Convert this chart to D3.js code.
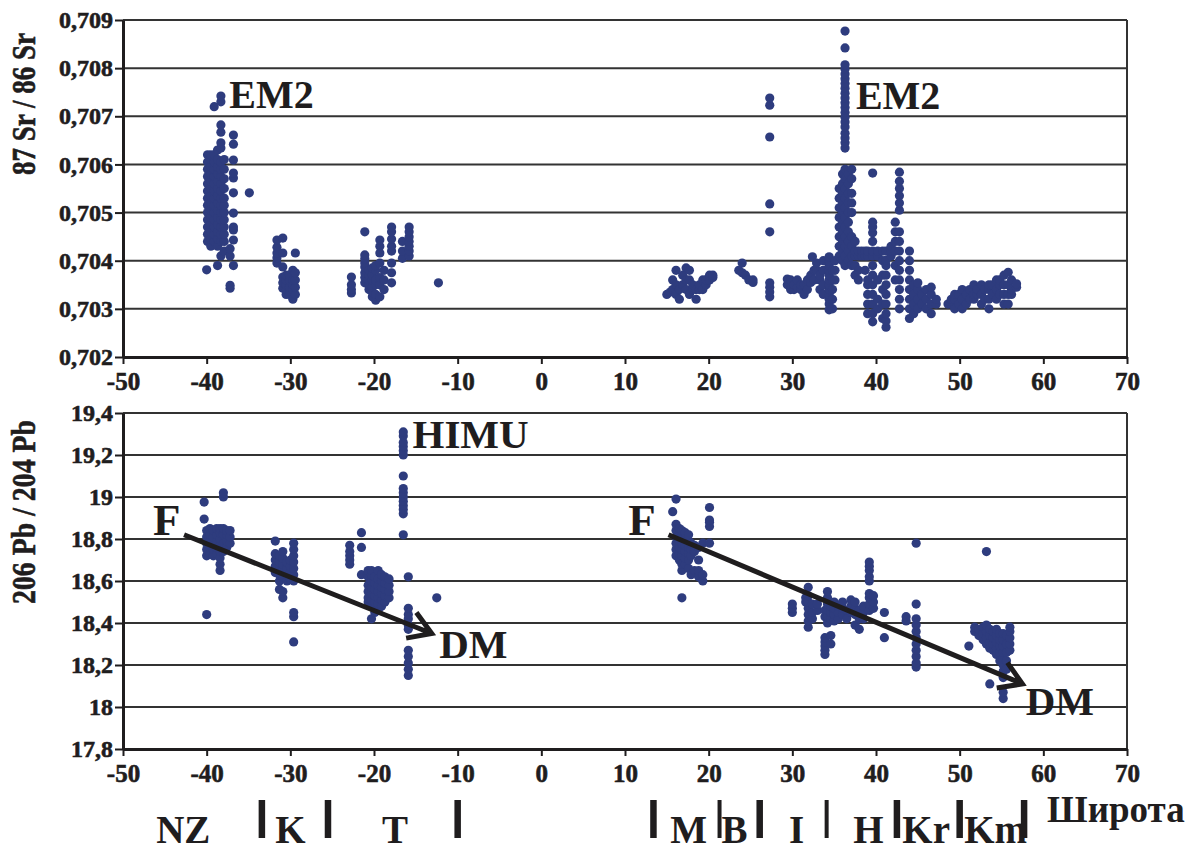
<!DOCTYPE html>
<html>
<head>
<meta charset="utf-8">
<script src="https://cdn.jsdelivr.net/npm/d3@7"></script>
<style>
body { margin: 0; background: #fff; }
</style>
</head>
<body>
<svg id="chart" width="1197" height="850"></svg>
<script>
// ---- data ----
const latTicks = [-50, -40, -30, -20, -10, 0, 10, 20, 30, 40, 50, 60, 70];
const srTicks = [0.702, 0.703, 0.704, 0.705, 0.706, 0.707, 0.708, 0.709];
const pbTicks = [17.8, 18, 18.2, 18.4, 18.6, 18.8, 19, 19.2, 19.4];

// 87Sr/86Sr, columns of [latitude, [values]]
const srColumns = [
  [-40.0, [0.70381]],
  [-39.9, [0.7044, 0.70455, 0.7047, 0.70485, 0.705, 0.70515, 0.7053, 0.70545, 0.7056, 0.70575, 0.7059, 0.70605, 0.7062]],
  [-39.5, [0.7043, 0.70445, 0.7046, 0.70475, 0.7049, 0.70505, 0.7052, 0.70535, 0.7055, 0.70565, 0.7058, 0.70595, 0.7061, 0.7062]],
  [-39.1, [0.7044, 0.70455, 0.7047, 0.70485, 0.705, 0.70515, 0.7053, 0.70545, 0.7056, 0.70575, 0.7059, 0.70605, 0.7062, 0.7072]],
  [-38.7, [0.7039, 0.7043, 0.70445, 0.7046, 0.70475, 0.7049, 0.70505, 0.7052, 0.70535, 0.7055, 0.70565, 0.7058, 0.70595, 0.7061, 0.7063]],
  [-38.3, [0.7041, 0.7044, 0.70455, 0.7047, 0.70485, 0.705, 0.70515, 0.7053, 0.70545, 0.7056, 0.70575, 0.7059, 0.70605, 0.70634, 0.70645, 0.70667, 0.70682, 0.7073, 0.70742]],
  [-37.9, [0.7042, 0.7044, 0.70455, 0.7047, 0.70485, 0.705, 0.70515, 0.7053, 0.7055, 0.7057, 0.7059, 0.7061]],
  [-37.2, [0.70343, 0.70349, 0.7041, 0.70425]],
  [-36.8, [0.7039, 0.70443, 0.70464, 0.7047, 0.70499, 0.70541, 0.70572, 0.70582, 0.70609, 0.70642, 0.70661]],
  [-34.9, [0.70541]],
  [-31.6, [0.70395, 0.70406, 0.70416, 0.70428, 0.70443]],
  [-30.9, [0.70343, 0.70354, 0.70366, 0.70387, 0.70416, 0.70447]],
  [-30.5, [0.7033, 0.7034, 0.7035, 0.7036, 0.7037]],
  [-30.1, [0.7033, 0.70345, 0.7036, 0.7037]],
  [-29.7, [0.7032, 0.7034, 0.7035, 0.7036, 0.7038]],
  [-29.4, [0.7033, 0.70345, 0.7036, 0.70375, 0.70416]],
  [-22.7, [0.70333, 0.7034, 0.7035, 0.70366]],
  [-21.1, [0.70354, 0.70365, 0.70375, 0.70387, 0.70395, 0.70404, 0.70412, 0.7046]],
  [-20.6, [0.7034, 0.7035, 0.7036, 0.7037, 0.7038]],
  [-20.2, [0.70325, 0.70335, 0.70345, 0.7036, 0.7037, 0.70385]],
  [-19.8, [0.70318, 0.7033, 0.7035, 0.7036, 0.7038, 0.7039]],
  [-19.3, [0.70325, 0.7035, 0.70365, 0.70395, 0.70416, 0.7043, 0.70443]],
  [-18.8, [0.7034, 0.7036, 0.7038]],
  [-17.9, [0.70354, 0.70375, 0.70395, 0.7042, 0.7043, 0.70445, 0.7046, 0.7047]],
  [-16.6, [0.70405, 0.7042, 0.7044]],
  [-15.8, [0.7041, 0.7042, 0.7043, 0.7044, 0.7045, 0.7046, 0.7047]],
  [-12.3, [0.70354]],
  [15.0, [0.7033]], [15.4, [0.70335]], [15.7, [0.7034, 0.7036]],
  [16.1, [0.7033, 0.7035, 0.7038]], [16.5, [0.7032, 0.7034]], [16.9, [0.7035, 0.7037]],
  [17.3, [0.7034, 0.7036, 0.70385]], [17.7, [0.7033, 0.7036, 0.7038]], [18.1, [0.7034, 0.7035]],
  [18.5, [0.7032, 0.7034]], [18.9, [0.7034, 0.7035]], [19.3, [0.7034, 0.7036]],
  [19.7, [0.7035, 0.7036]], [20.1, [0.7036, 0.7037]], [20.5, [0.70365, 0.7037]],
  [23.6, [0.7038]], [24.0, [0.70375, 0.70395]], [24.4, [0.7037]], [24.8, [0.7036]], [25.3, [0.70355, 0.7036]],
  [27.3, [0.70325, 0.70335, 0.70345, 0.70354, 0.7046, 0.70518, 0.70657, 0.70723, 0.70738]],
  [29.4, [0.7035, 0.70362]], [29.8, [0.7034, 0.7036]], [30.2, [0.7034, 0.7035]], [30.6, [0.70345, 0.7036]],
  [31.0, [0.7034, 0.7035]], [31.4, [0.7033, 0.7035]], [31.8, [0.7034, 0.7036]], [32.2, [0.70355, 0.7037]],
  [32.4, [0.70408]], [32.6, [0.7036, 0.7038]], [32.9, [0.7038, 0.70395]],
  [33.3, [0.7034, 0.7036, 0.7037]], [33.7, [0.7033, 0.7035, 0.7038, 0.704]],
  [34.4, [0.70298, 0.7031, 0.7032, 0.7033, 0.7034, 0.7035, 0.7036, 0.7037, 0.7038, 0.7039, 0.704, 0.70408]],
  [34.8, [0.703, 0.7032, 0.7034, 0.7036, 0.7038]],
  [35.1, [0.7036, 0.7038, 0.704]],
  [35.6, [0.7041, 0.7043, 0.7045, 0.7047, 0.7049, 0.7051, 0.7053, 0.7055]],
  [36.0, [0.704, 0.7042, 0.7044, 0.7046, 0.7048, 0.705, 0.7052, 0.7054, 0.7056, 0.7058]],
  [36.3, [0.7039, 0.7041, 0.7043, 0.7045, 0.7047, 0.7049, 0.7051, 0.7053, 0.7055, 0.7057, 0.7059,
          0.70634, 0.70645, 0.70655, 0.70665, 0.70678, 0.70688, 0.70698, 0.70708, 0.70718, 0.70728,
          0.70738, 0.70748, 0.70758, 0.70768, 0.70778, 0.70788, 0.70798, 0.70807, 0.70842, 0.70877]],
  [36.7, [0.704, 0.7042, 0.7044, 0.7046, 0.7048, 0.705, 0.7052, 0.7054, 0.7056, 0.7058]],
  [37.1, [0.7039, 0.7041, 0.7043, 0.7045, 0.705, 0.7052, 0.7054, 0.7057, 0.7059]],
  [37.5, [0.7037, 0.7039, 0.7041, 0.7042, 0.7044]],
  [37.9, [0.7036, 0.7038, 0.7041, 0.7042]],
  [38.3, [0.7041, 0.7042]], [38.7, [0.7038, 0.7041, 0.7042]],
  [39.0, [0.7029, 0.7031, 0.7033, 0.7035, 0.7036, 0.7041, 0.7042]],
  [39.6, [0.70273, 0.7029, 0.7031, 0.7033, 0.7035, 0.7037, 0.7039, 0.7041, 0.7042, 0.7044, 0.70458, 0.7047, 0.7048, 0.70582]],
  [40.2, [0.703, 0.7032, 0.7036, 0.7041, 0.7042]],
  [40.8, [0.7028, 0.7031, 0.7034, 0.7037, 0.704, 0.7042]],
  [41.2, [0.70262, 0.70275, 0.7029, 0.7031, 0.7033, 0.7035, 0.7037, 0.7039, 0.70401, 0.7042]],
  [41.8, [0.7041, 0.7042, 0.7043]],
  [42.3, [0.7036, 0.7039, 0.7042, 0.7044, 0.7046, 0.7048]],
  [42.8, [0.703, 0.7032, 0.7034, 0.7036, 0.7038, 0.704, 0.7042, 0.7044, 0.7046, 0.70505, 0.7052, 0.70535, 0.7055, 0.70565, 0.70584]],
  [44.0, [0.7028, 0.703, 0.7032, 0.7034, 0.7036, 0.7038, 0.704, 0.7042]],
  [44.5, [0.7029, 0.7031, 0.7033, 0.7035]],
  [45.0, [0.703, 0.7032, 0.7034, 0.70354]],
  [45.5, [0.7031, 0.7033]], [46.0, [0.703, 0.7032, 0.7034]],
  [46.6, [0.7029, 0.7031, 0.7033, 0.70345]], [47.2, [0.7031, 0.7032]],
  [48.6, [0.7031]], [49.0, [0.7031, 0.7032]], [49.4, [0.703, 0.7032, 0.7033]], [49.9, [0.7031, 0.7033]],
  [50.3, [0.703, 0.7032, 0.7034]], [50.8, [0.7031, 0.7033]], [51.2, [0.7032, 0.7034]],
  [51.7, [0.7032, 0.7033, 0.7035]], [52.1, [0.7033, 0.7034]], [52.6, [0.7031, 0.7033, 0.7035]],
  [53.0, [0.7032, 0.7034]], [53.5, [0.703, 0.7032, 0.7034, 0.7035]], [53.9, [0.7033, 0.7035]],
  [54.4, [0.7032, 0.7034, 0.7036]], [54.8, [0.7033, 0.7035, 0.7036]], [55.3, [0.7031, 0.7033, 0.7035, 0.7037]],
  [55.8, [0.7031, 0.7033, 0.7035, 0.70376]], [56.2, [0.7033, 0.7034, 0.7036]], [56.8, [0.70345, 0.70352]]
];

// 206Pb/204Pb, columns of [latitude, [values]]
const pbColumns = [
  [-40.3, [18.895, 18.976]],
  [-40.0, [18.44, 18.72, 18.75, 18.78, 18.81, 18.84]],
  [-39.6, [18.73, 18.76, 18.79, 18.82, 18.85]],
  [-39.2, [18.72, 18.75, 18.78, 18.81, 18.84]],
  [-38.8, [18.73, 18.76, 18.79, 18.82, 18.85]],
  [-38.4, [18.65, 18.68, 18.71, 18.74, 18.77, 18.8, 18.83, 18.85]],
  [-38.0, [18.74, 18.78, 18.82, 18.85, 19.0, 19.02]],
  [-37.6, [18.76, 18.79, 18.82, 18.84]],
  [-37.2, [18.78, 18.81, 18.84]],
  [-31.8, [18.64, 18.67, 18.7, 18.73, 18.79]],
  [-31.3, [18.56, 18.6, 18.63, 18.66, 18.69, 18.72]],
  [-30.9, [18.52, 18.55, 18.62, 18.65, 18.68, 18.71, 18.74]],
  [-30.4, [18.6, 18.63, 18.66, 18.69]],
  [-30.0, [18.61, 18.64, 18.67, 18.7]],
  [-29.6, [18.31, 18.43, 18.45, 18.6, 18.63, 18.66, 18.69, 18.72, 18.75, 18.78]],
  [-22.9, [18.68, 18.7, 18.72, 18.74, 18.77]],
  [-21.5, [18.63, 18.76, 18.83]],
  [-20.7, [18.5, 18.52, 18.55, 18.58, 18.62, 18.65]],
  [-20.3, [18.42, 18.48, 18.51, 18.54, 18.57, 18.6, 18.63, 18.65]],
  [-19.9, [18.45, 18.5, 18.53, 18.56, 18.59, 18.62]],
  [-19.5, [18.46, 18.49, 18.52, 18.55, 18.58, 18.61, 18.65]],
  [-19.1, [18.48, 18.51, 18.54, 18.57, 18.6, 18.63]],
  [-18.7, [18.5, 18.53, 18.56, 18.59, 18.62]],
  [-18.2, [18.52, 18.55, 18.58, 18.61]],
  [-16.5, [18.82, 18.92, 18.94, 18.96, 18.98, 19.0, 19.02, 19.04, 19.1, 19.2, 19.22, 19.24, 19.26, 19.29, 19.31]],
  [-15.9, [18.15, 18.18, 18.21, 18.24, 18.27, 18.37, 18.39, 18.42, 18.44, 18.47, 18.62]],
  [-12.5, [18.52]],
  [15.7, [18.93]],
  [16.1, [18.72, 18.75, 18.78, 18.81, 18.84, 18.87, 18.99]],
  [16.5, [18.7, 18.73, 18.76, 18.79, 18.82, 18.85]],
  [16.8, [18.52, 18.65, 18.68, 18.72, 18.75, 18.78, 18.81, 18.84]],
  [17.2, [18.68, 18.71, 18.74, 18.77, 18.8, 18.83]],
  [17.6, [18.66, 18.7, 18.73, 18.76, 18.79, 18.82]],
  [17.9, [18.63, 18.72, 18.75, 18.78]],
  [18.3, [18.65, 18.74, 18.77]],
  [18.8, [18.62, 18.65, 18.7, 18.76]],
  [19.3, [18.6, 18.63, 18.78]],
  [20.1, [18.78, 18.86, 18.88, 18.89, 18.95]],
  [30.0, [18.45, 18.47, 18.49]],
  [31.6, [18.5, 18.52]],
  [31.9, [18.38, 18.41, 18.44, 18.47, 18.5, 18.53, 18.57]],
  [32.4, [18.42, 18.45, 18.49]],
  [33.0, [18.46, 18.49]],
  [33.9, [18.25, 18.27, 18.29, 18.31, 18.33, 18.43, 18.46]],
  [34.2, [18.4, 18.43, 18.46, 18.49, 18.52, 18.55]],
  [34.6, [18.3, 18.34, 18.42, 18.45, 18.48]],
  [35.0, [18.41, 18.44, 18.47, 18.5]],
  [35.5, [18.42, 18.45, 18.48]],
  [36.0, [18.44, 18.47, 18.5]],
  [36.5, [18.42, 18.46]],
  [37.0, [18.45, 18.48, 18.51]],
  [37.5, [18.39, 18.44, 18.47, 18.5]],
  [38.0, [18.37, 18.42, 18.46]],
  [38.5, [18.42, 18.45, 18.48]],
  [39.2, [18.46, 18.49, 18.52, 18.54, 18.6, 18.62, 18.65, 18.67, 18.69]],
  [39.7, [18.47, 18.5, 18.53]],
  [41.0, [18.33, 18.45]],
  [43.6, [18.41, 18.43]],
  [44.8, [18.19, 18.21, 18.24, 18.27, 18.3, 18.33, 18.36, 18.39, 18.42, 18.49, 18.78]],
  [51.1, [18.29]],
  [51.8, [18.36, 18.38]],
  [52.3, [18.34, 18.37]],
  [52.8, [18.32, 18.35, 18.38]],
  [53.2, [18.3, 18.33, 18.36, 18.39, 18.74]],
  [53.6, [18.11, 18.28, 18.31, 18.34, 18.37]],
  [54.0, [18.27, 18.3, 18.33, 18.36]],
  [54.4, [18.25, 18.28, 18.31, 18.34, 18.37]],
  [54.8, [18.22, 18.26, 18.29, 18.32, 18.35]],
  [55.2, [18.04, 18.07, 18.14, 18.17, 18.2, 18.23, 18.26, 18.29, 18.32, 18.35]],
  [55.6, [18.18, 18.22, 18.26, 18.3, 18.34]],
  [56.0, [18.27, 18.3, 18.33, 18.36, 18.38]]
];

// region boundaries (latitude) and region names with their centre latitude
const zoneBounds = [-33.4, -25.5, -10, 13.4, 21.3, 26.1, 34.1, 42.5, 50, 57.7];
const zoneThin = [21.3, 34.1];
const zoneNames = ["NZ", "K", "T", "M", "B", "I", "H", "Kr", "Km"];
const zoneCentres = [-42.8, -30.0, -17.5, 17.6, 23.1, 30.5, 39.1, 46.0, 54.3];

// labels and trend arrows, anchored in data units
const srLabels = [["EM2", -37.3, 0.70717], ["EM2", 37.6, 0.70715]];
const pbLabels = [["HIMU", -15.4, 19.233], ["F", -46.4, 18.82], ["F", 10.4, 18.82], ["DM", -12.2, 18.233], ["DM", 57.9, 17.962]];
const pbArrows = [[-42.7, 18.82, -13.1, 18.35], [15.2, 18.82, 57.5, 18.11]];

// ---- drawing ----
const FONT = '"Liberation Serif", "Times New Roman", serif';
const INK = "#1f1d1e";
const svg = d3.select("#chart");
svg.append("rect").attr("width", 1197).attr("height", 850).attr("fill", "#fff");

const left = 123, right = 1127;
const x = d3.scaleLinear().domain([-50, 70]).range([left, right]);
const ySr = d3.scaleLinear().domain([0.702, 0.709]).range([357, 20]);
const yPb = d3.scaleLinear().domain([17.8, 19.4]).range([749, 413]);

const dotColor = "#2e3c7e";
const commaFmt = d => String(d).replace(".", ",");

// bold serif text; a thin outline thickens the small labels like the original
function label(sel, size, heavy) {
  return sel.style("font-family", FONT).style("font-weight", "bold")
    .style("font-size", size + "px").attr("fill", INK)
    .attr("stroke", heavy ? INK : "none").attr("stroke-width", heavy ? 0.6 : 0);
}

function panel(y, ticks, columns) {
  const g = svg.append("g");
  const [y0, y1] = y.range();

  // grid lines
  g.selectAll(".grid").data(ticks.slice(1)).enter()
    .append("line")
    .attr("x1", left).attr("x2", right)
    .attr("y1", d => y(d)).attr("y2", d => y(d))
    .attr("stroke", "#333").attr("stroke-width", 2);

  // right border
  g.append("line")
    .attr("x1", right).attr("x2", right).attr("y1", y1).attr("y2", y0)
    .attr("stroke", "#333").attr("stroke-width", 2);

  const yAxis = g.append("g")
    .attr("transform", "translate(" + left + ",0)")
    .call(d3.axisLeft(y).tickValues(ticks).tickSize(8).tickSizeOuter(0).tickPadding(2).tickFormat(commaFmt));
  const xAxis = g.append("g")
    .attr("transform", "translate(0," + y0 + ")")
    .call(d3.axisBottom(x).tickValues(latTicks).tickSize(7).tickSizeOuter(0).tickPadding(8).tickFormat(d => d));

  [yAxis, xAxis].forEach(a => {
    a.select(".domain").attr("stroke", INK).attr("stroke-width", 3);
    a.selectAll(".tick line").attr("stroke", INK).attr("stroke-width", 2);
  });
  label(yAxis.selectAll("text"), 24, true);
  label(xAxis.selectAll("text"), 25, true);

  const pts = columns.flatMap(([lat, vals]) => vals.map(v => [lat, v]));
  g.selectAll(".dot").data(pts).enter()
    .append("circle")
    .attr("cx", d => x(d[0]))
    .attr("cy", d => y(d[1]))
    .attr("r", 4.6)
    .attr("fill", dotColor);
  return g;
}

const srPanel = panel(ySr, srTicks, srColumns);
const pbPanel = panel(yPb, pbTicks, pbColumns);

// axis titles: condensed along the text to the length seen in the original
function yTitle(txt, cy, len) {
  const t = label(svg.append("text"), 33, true)
    .attr("text-anchor", "middle")
    .text(txt);
  const k = len / t.node().getComputedTextLength();
  t.attr("transform", "translate(35," + cy + ") rotate(-90) scale(" + k + ",1)");
}
yTitle("87 Sr / 86 Sr", 104, 142);
yTitle("206 Pb / 204 Pb", 512, 184);

// annotations
label(srPanel.selectAll(".lab").data(srLabels).enter().append("text"), 40)
  .attr("x", d => x(d[1])).attr("y", d => ySr(d[2]))
  .text(d => d[0]);

label(pbPanel.selectAll(".lab").data(pbLabels).enter().append("text"), 41)
  .attr("x", d => x(d[1])).attr("y", d => yPb(d[2]))
  .style("font-size", d => d[0] === "F" ? "45px" : "41px")
  .text(d => d[0]);

pbArrows.forEach(([la, va, lb, vb]) => {
  const x1 = x(la), y1 = yPb(va), x2 = x(lb), y2 = yPb(vb);
  const back = Math.atan2(y1 - y2, x1 - x2);
  const head = 26, spread = 32 * Math.PI / 180;
  const p = d3.path();
  p.moveTo(x1, y1); p.lineTo(x2, y2);
  p.moveTo(x2 + head * Math.cos(back + spread), y2 + head * Math.sin(back + spread));
  p.lineTo(x2, y2);
  p.lineTo(x2 + head * Math.cos(back - spread), y2 + head * Math.sin(back - spread));
  pbPanel.append("path").attr("d", p.toString())
    .attr("fill", "none").attr("stroke", INK).attr("stroke-width", 5);
});

// region markers under the lower axis
svg.selectAll(".zone").data(zoneBounds).enter()
  .append("line")
  .attr("x1", d => x(d)).attr("x2", d => x(d))
  .attr("y1", 800).attr("y2", 838)
  .attr("stroke", INK)
  .attr("stroke-width", d => zoneThin.includes(d) ? 4 : 6.5);

label(svg.selectAll(".zname").data(zoneNames).enter().append("text"), 39)
  .attr("x", (d, i) => x(zoneCentres[i]))
  .attr("y", 843)
  .attr("text-anchor", "middle")
  .text(d => d);

label(svg.append("text"), 37)
  .attr("x", 1047).attr("y", 822)
  .text("Широта");
</script>
</body>
</html>
